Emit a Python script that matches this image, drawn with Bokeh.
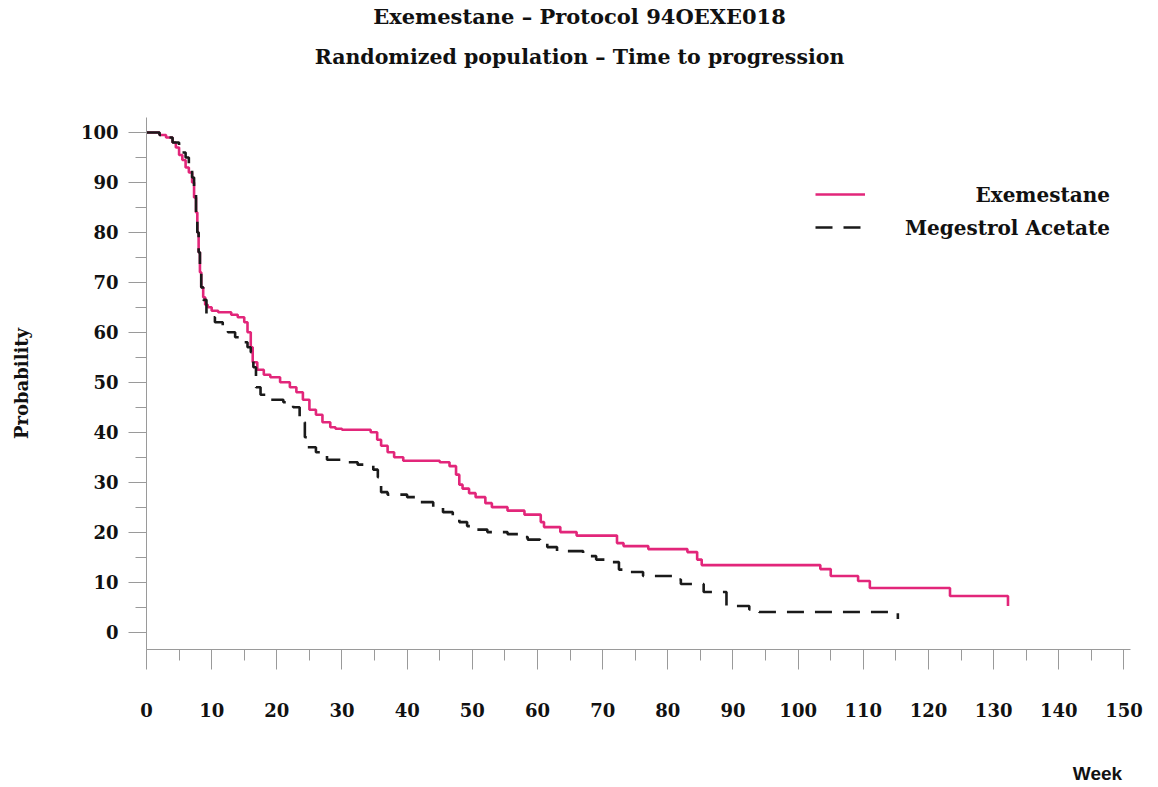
from bokeh.plotting import figure
from bokeh.models import (Range1d, Label, Legend, LegendItem, SingleIntervalTicker,
                          LinearAxis, FixedTicker)
from bokeh.embed import file_html
from bokeh.resources import INLINE

# ---- data ----
title_line1 = "Exemestane \u2013 Protocol 94OEXE018"
title_line2 = "Randomized population \u2013 Time to progression"
x_label = "Week"
y_label = "Probability"
series_names = ["Exemestane", "Megestrol Acetate"]

exe_weeks = [0, 2, 3, 4, 4.5, 5, 5.5, 6, 6.5, 7, 7.3, 7.6, 7.8, 8, 8.2, 8.4, 8.7, 9, 9.4, 10,
             11, 13, 14, 15, 15.5, 16, 16.3, 17, 18, 19, 20.5, 22, 23, 24, 25, 26, 27, 28.2, 29, 30,
             34.4, 35.4, 36, 37, 38, 39.4, 45, 46.5, 47.5, 48, 48.5, 49.5, 50.5, 52, 53, 55.4, 58,
             60.5, 61, 63.5, 66, 72.2, 73.2, 77, 83, 84.5, 85.2, 103.4, 105, 109.2, 111, 123.3, 132.2]
exe_prob = [100, 99.5, 99, 98, 97, 95.5, 94.5, 93, 92, 90, 87, 84, 80, 76, 72, 69, 67, 65.5, 65, 64.3,
            64, 63.5, 63, 62, 60, 57, 54, 52.5, 51.5, 51, 50, 49, 48, 46.5, 44.5, 43.5, 42, 41, 40.7, 40.5,
            40, 38.5, 37.3, 36, 35, 34.3, 34, 33.2, 31.5, 29.5, 28.7, 27.8, 27, 25.8, 25, 24.3, 23.5,
            22, 21, 20, 19.3, 17.8, 17.2, 16.6, 16, 14.5, 13.4, 12.6, 11.2, 10.2, 8.8, 7.2, 5.2]

meg_weeks = [0, 2, 3, 4, 5, 6, 6.5, 7, 7.3, 7.6, 7.8, 8, 8.2, 8.4, 8.7, 9.2, 9.6, 10.5, 11.7, 12.5,
             13.6, 14.5, 15.5, 16, 16.4, 16.8, 17.5, 19, 21, 22.5, 23.5, 23.9, 24.3, 24.7, 26, 27.7,
             30, 32.4, 34.8, 35.5, 36, 37, 40, 42, 44, 45.5, 47, 48, 49.2, 50, 52.3, 55.4, 57, 58.5,
             60.4, 61.5, 63, 67, 69, 70.7, 72.5, 74.2, 76.2, 81, 82, 85.5, 89, 92.5, 94, 115.3]
meg_prob = [100, 99.5, 99, 98, 96, 95, 93, 91, 88, 84, 80, 76, 72, 69, 66.5, 63.5, 63, 62, 61, 60,
            59, 58, 57, 56, 53, 49, 47.5, 46.5, 46, 45, 43, 42, 39, 37, 36, 34.5,
            34, 33.5, 32.5, 31, 28, 27.5, 27, 26, 25, 24, 23, 22, 21.2, 20.5, 20, 19.6, 19, 18.5,
            18, 17, 16.2, 15.2, 14.5, 14, 12.5, 12, 11.2, 10.5, 9.6, 8, 5.2, 4.5, 4, 2.6]

PINK = "#e2267a"
SERIF = "DejaVu Serif"
W, H = 1150, 786
LEFT, RIGHT = 146, 20

p = figure(width=W, height=H, x_range=Range1d(0, 151), y_range=Range1d(-3.5, 103),
           output_backend="svg", toolbar_location=None,
           min_border_left=LEFT, min_border_right=RIGHT, min_border_top=117, min_border_bottom=136)
p.outline_line_color = None
p.grid.visible = False
# a pixel-like range spanning the frame, used to place the title / "Week" texts
p.extra_x_ranges = {"px": Range1d(LEFT, W - RIGHT)}

r_exe = p.step(exe_weeks, exe_prob, mode="after", line_color=PINK, line_width=2.6)
r_meg = p.step(meg_weeks, meg_prob, mode="after", line_color="#1a1a1a", line_width=2.6,
               line_dash="17 11")

for ax in (p.xaxis[0], p.yaxis[0]):
    ax.axis_line_color = "#9a9a9a"
    ax.major_tick_line_color = "#9a9a9a"
    ax.minor_tick_line_color = "#9a9a9a"
    ax.major_tick_in = 0
    ax.minor_tick_in = 0
    ax.major_label_text_font = SERIF
    ax.major_label_text_font_style = "bold"
    ax.major_label_text_font_size = "18px"
    ax.major_label_text_color = "#111111"

p.xaxis.ticker = SingleIntervalTicker(interval=10, num_minor_ticks=2)
p.yaxis.ticker = SingleIntervalTicker(interval=10, num_minor_ticks=2)
p.xaxis.major_tick_out = 20
p.xaxis.minor_tick_out = 11
p.xaxis.major_label_standoff = 33
p.yaxis.major_tick_out = 18
p.yaxis.minor_tick_out = 11
p.yaxis.major_label_standoff = 10

p.yaxis.axis_label = y_label
p.yaxis.axis_label_text_font = SERIF
p.yaxis.axis_label_text_font_style = "bold"
p.yaxis.axis_label_text_font_size = "18px"
p.yaxis.axis_label_text_color = "#111111"
p.yaxis.axis_label_standoff = 46


def text_axis(text, pos, standoff, font, size):
    ax = LinearAxis(x_range_name="px", ticker=FixedTicker(ticks=[pos]),
                    major_label_overrides={pos: text},
                    axis_line_color=None, major_tick_line_color=None, minor_tick_line_color=None,
                    major_tick_out=0, major_tick_in=0, minor_tick_out=0, minor_tick_in=0,
                    major_label_standoff=standoff, major_label_text_font=font,
                    major_label_text_font_style="bold", major_label_text_font_size=size,
                    major_label_text_color="#111111")
    return ax


# titles: second line is nearest the frame
p.add_layout(text_axis(title_line2, 579, 49, SERIF, "20.5px"), "above")
p.add_layout(text_axis(title_line1, 579, 13, SERIF, "21px"), "above")
# x axis title at bottom right
p.add_layout(text_axis(x_label, 1097, 43, "Liberation Sans", "19px"), "below")

# legend: glyph samples via Legend, texts right-aligned
legend = Legend(items=[LegendItem(label=" ", renderers=[r_exe]),
                       LegendItem(label=" ", renderers=[r_meg])],
                location=(669, 412), glyph_width=50, glyph_height=20, spacing=13,
                padding=0, margin=0, border_line_color=None, background_fill_alpha=0,
                label_text_font_size="4px", label_width=1, label_standoff=0)
p.add_layout(legend, "center")
for name, yy in zip(series_names, (87.4, 80.8)):
    p.add_layout(Label(x=147.85, y=yy, text=name, text_align="right", text_baseline="middle",
                       text_font=SERIF, text_font_style="bold", text_font_size="20px",
                       text_color="#111111"))

open("out.html", "w").write(file_html(p, INLINE))
